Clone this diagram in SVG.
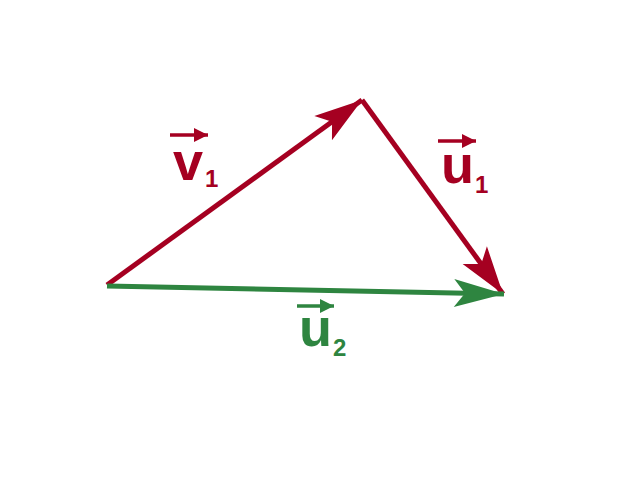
<svg xmlns="http://www.w3.org/2000/svg" width="640" height="480" viewBox="0 0 640 480">
<style>
.red{fill:#A50021}
.green{fill:#2E8540}
.lbl{font-family:"Liberation Sans",Arial,sans-serif;font-weight:bold;font-size:54px}
.sub{font-family:"Liberation Sans",Arial,sans-serif;font-weight:bold;font-size:24px}
</style>
<defs>
<marker id="hr" markerUnits="userSpaceOnUse" viewBox="-50 -16 52 32" refX="0" refY="0" markerWidth="52" markerHeight="32" orient="auto" overflow="visible">
<path d="M0,0 L-48,-15 L-37,0 L-48,15 Z" fill="#A50021"/>
</marker>
<marker id="hg" markerUnits="userSpaceOnUse" viewBox="-52 -16 54 32" refX="0" refY="0" markerWidth="54" markerHeight="32" orient="auto" overflow="visible">
<path d="M0,0 L-50,-14 L-39,0 L-50,14 Z" fill="#2E8540"/>
</marker>
<marker id="sr" markerUnits="userSpaceOnUse" viewBox="-14 -8 16 16" refX="0" refY="0" markerWidth="16" markerHeight="16" orient="auto" overflow="visible">
<path d="M0,0 L-14,-7 L-14,7 Z" fill="#A50021"/>
</marker>
<marker id="sg" markerUnits="userSpaceOnUse" viewBox="-14 -8 16 16" refX="0" refY="0" markerWidth="16" markerHeight="16" orient="auto" overflow="visible">
<path d="M0,0 L-14,-7 L-14,7 Z" fill="#2E8540"/>
</marker>
</defs>
<rect width="640" height="480" fill="#fff"/>
<g id="connectors" fill="none" stroke-width="5">
<line x1="107" y1="285" x2="362" y2="100" stroke="#A50021" marker-end="url(#hr)"/>
<line x1="362" y1="100" x2="503" y2="294" stroke="#A50021" marker-end="url(#hr)"/>
<line x1="107" y1="286" x2="504" y2="294" stroke="#2E8540" marker-end="url(#hg)"/>
</g>
<g id="label-v1">
<line x1="170" y1="135" x2="208" y2="135" stroke="#A50021" stroke-width="3.5" marker-end="url(#sr)"/>
<text class="lbl red" x="173" y="180">v</text>
<text class="sub red" x="205" y="187">1</text>
</g>
<g id="label-u1">
<line x1="438" y1="141" x2="476" y2="141" stroke="#A50021" stroke-width="3.5" marker-end="url(#sr)"/>
<text class="lbl red" x="441" y="183">u</text>
<text class="sub red" x="475" y="193">1</text>
</g>
<g id="label-u2">
<line x1="297" y1="306" x2="334" y2="306" stroke="#2E8540" stroke-width="3.5" marker-end="url(#sg)"/>
<text class="lbl green" x="299" y="346">u</text>
<text class="sub green" x="333" y="356">2</text>
</g>
</svg>
